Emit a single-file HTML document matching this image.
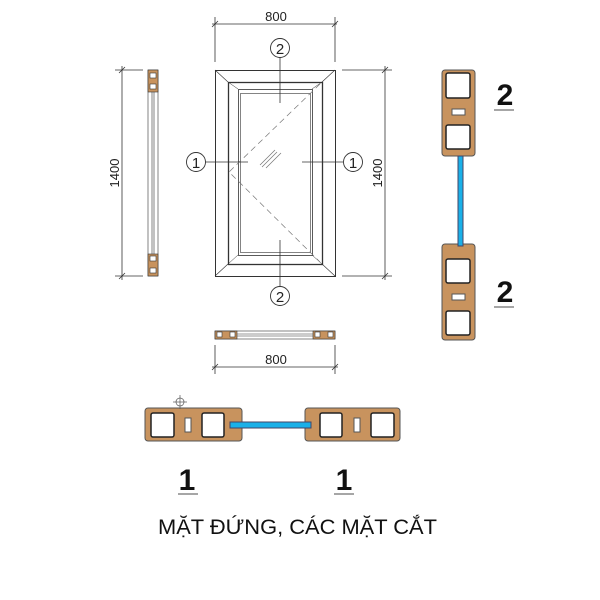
<!DOCTYPE html>
<html><head><meta charset="utf-8"><style>
html,body{margin:0;padding:0;background:#fff}
svg{display:block}
</style></head><body>
<svg width="600" height="600" viewBox="0 0 600 600" xmlns="http://www.w3.org/2000/svg" font-family="Liberation Sans, sans-serif">
<g stroke="#333" stroke-width="0.8" fill="none">
<line x1="212" y1="24" x2="337" y2="24"/>
<line x1="215" y1="17" x2="215" y2="62"/>
<line x1="335" y1="17" x2="335" y2="62"/>
<line x1="212" y1="27" x2="218" y2="21"/><line x1="332" y1="27" x2="338" y2="21"/>
<line x1="122" y1="66" x2="122" y2="280"/>
<line x1="115" y1="70" x2="143" y2="70"/><line x1="115" y1="276" x2="143" y2="276"/>
<line x1="119" y1="73" x2="125" y2="67"/><line x1="119" y1="279" x2="125" y2="273"/>
<line x1="385" y1="66" x2="385" y2="280"/>
<line x1="342" y1="70" x2="392" y2="70"/><line x1="342" y1="276" x2="392" y2="276"/>
<line x1="382" y1="73" x2="388" y2="67"/><line x1="382" y1="279" x2="388" y2="273"/>
<line x1="212" y1="367" x2="338" y2="367"/>
<line x1="215" y1="345" x2="215" y2="374"/><line x1="335" y1="345" x2="335" y2="374"/>
<line x1="212" y1="370" x2="218" y2="364"/><line x1="332" y1="370" x2="338" y2="364"/>
</g>
<g font-size="13" fill="#222" text-anchor="middle">
<text x="276" y="21">800</text>
<text x="276" y="364">800</text>
<text transform="translate(119,173) rotate(-90)">1400</text>
<text transform="translate(382,173) rotate(-90)">1400</text>
</g>
<g stroke="#333" fill="none">
<rect x="215.5" y="70.5" width="120" height="206" stroke-width="1"/>
<rect x="228.5" y="82.5" width="94" height="182" stroke-width="1.3"/>
<rect x="238.5" y="89.5" width="74" height="166" stroke-width="0.8"/>
<rect x="240.5" y="93.5" width="70" height="159" stroke-width="0.6"/>
<line x1="215" y1="70" x2="228" y2="82" stroke-width="0.6"/>
<line x1="335" y1="70" x2="322" y2="82" stroke-width="0.6"/>
<line x1="215" y1="276" x2="228" y2="264" stroke-width="0.6"/>
<line x1="335" y1="276" x2="322" y2="264" stroke-width="0.6"/>
<line x1="228" y1="82" x2="238" y2="89" stroke-width="0.5"/>
<line x1="322" y1="82" x2="312" y2="89" stroke-width="0.5"/>
<line x1="228" y1="264" x2="238" y2="255" stroke-width="0.5"/>
<line x1="322" y1="264" x2="312" y2="255" stroke-width="0.5"/>
<polyline points="320,84 229,172 320,262" stroke="#777" stroke-width="0.7" stroke-dasharray="6,4"/>
<g stroke="#777" stroke-width="0.7"><line x1="260" y1="165" x2="275" y2="150"/><line x1="262" y1="167" x2="277" y2="152"/><line x1="266" y1="168" x2="281" y2="153"/></g>
<line x1="280" y1="57" x2="280" y2="103" stroke-width="0.8"/>
<line x1="280" y1="240" x2="280" y2="287" stroke-width="0.8"/>
<line x1="205" y1="162" x2="248" y2="162" stroke-width="0.8"/>
<line x1="302" y1="162" x2="343" y2="162" stroke-width="0.8"/>
<circle cx="280" cy="48" r="9.5" fill="#fff" stroke-width="0.9"/>
<circle cx="280" cy="296" r="9.5" fill="#fff" stroke-width="0.9"/>
<circle cx="196" cy="162" r="9.5" fill="#fff" stroke-width="0.9"/>
<circle cx="353" cy="162" r="9.5" fill="#fff" stroke-width="0.9"/>
</g>
<g font-size="15" fill="#222" text-anchor="middle">
<text x="280" y="54">2</text><text x="280" y="302">2</text>
<text x="196" y="168">1</text><text x="353" y="168">1</text>
</g>
<g stroke="#333" stroke-width="0.6">
<rect x="148" y="70" width="10" height="206" fill="#fff"/>
<rect x="148" y="70" width="10" height="22" fill="#c8935e"/>
<rect x="148" y="254" width="10" height="22" fill="#c8935e"/>
<rect x="150" y="73" width="6" height="5" fill="#fff"/><rect x="150" y="84" width="6" height="5" fill="#fff"/>
<rect x="150" y="256" width="6" height="5" fill="#fff"/><rect x="150" y="268" width="6" height="5" fill="#fff"/>
<line x1="152" y1="92" x2="152" y2="254"/><line x1="154" y1="92" x2="154" y2="254"/>
</g>
<g stroke="#333" stroke-width="0.6">
<rect x="215" y="331" width="120" height="8" fill="#fff"/>
<rect x="215" y="331" width="22" height="8" fill="#c8935e"/>
<rect x="313" y="331" width="22" height="8" fill="#c8935e"/>
<rect x="217" y="332" width="5" height="5" fill="#fff"/><rect x="230" y="332" width="5" height="5" fill="#fff"/>
<rect x="315" y="332" width="5" height="5" fill="#fff"/><rect x="328" y="332" width="5" height="5" fill="#fff"/>
<line x1="237" y1="334" x2="313" y2="334"/><line x1="237" y1="336" x2="313" y2="336"/>
</g>
<g stroke="#555" stroke-width="1">
<rect x="442" y="70" width="33" height="86" rx="3" fill="#c8935e"/>
<rect x="442" y="244" width="33" height="96" rx="3" fill="#c8935e"/>
<rect x="458" y="156" width="5" height="90" fill="#1ab0e8" stroke="#446"/>
<rect x="446" y="73" width="24" height="25" rx="2" fill="#fff" stroke="#222" stroke-width="1.5"/>
<rect x="446" y="125" width="24" height="24" rx="2" fill="#fff" stroke="#222" stroke-width="1.5"/>
<rect x="446" y="259" width="24" height="24" rx="2" fill="#fff" stroke="#222" stroke-width="1.5"/>
<rect x="446" y="311" width="24" height="24" rx="2" fill="#fff" stroke="#222" stroke-width="1.5"/>
<rect x="452" y="109" width="13" height="6" fill="#fff"/>
<rect x="452" y="294" width="13" height="6" fill="#fff"/>
</g>
<g font-size="30" font-weight="bold" fill="#111" text-anchor="middle">
<text x="505" y="105">2</text><text x="505" y="302">2</text>
<text x="187" y="490">1</text><text x="344" y="490">1</text>
</g>
<g stroke="#888" stroke-width="1.5">
<line x1="494" y1="110" x2="514" y2="110"/><line x1="494" y1="307" x2="514" y2="307"/>
<line x1="178" y1="494" x2="198" y2="494"/><line x1="334" y1="494" x2="354" y2="494"/>
</g>
<g stroke="#555" stroke-width="1">
<rect x="145" y="408" width="97" height="33" rx="3" fill="#c8935e"/>
<rect x="305" y="408" width="95" height="33" rx="3" fill="#c8935e"/>
<rect x="230" y="422" width="81" height="6" fill="#1ab0e8" stroke="#446"/>
<rect x="151" y="413" width="23" height="24" rx="2" fill="#fff" stroke="#222" stroke-width="1.5"/>
<rect x="202" y="413" width="22" height="24" rx="2" fill="#fff" stroke="#222" stroke-width="1.5"/>
<rect x="320" y="413" width="22" height="24" rx="2" fill="#fff" stroke="#222" stroke-width="1.5"/>
<rect x="371" y="413" width="23" height="24" rx="2" fill="#fff" stroke="#222" stroke-width="1.5"/>
<rect x="185" y="418" width="6" height="14" fill="#fff"/>
<rect x="354" y="418" width="6" height="14" fill="#fff"/>
</g>
<g stroke="#555" stroke-width="0.7" fill="none">
<circle cx="180" cy="402" r="4"/><line x1="173" y1="402" x2="187" y2="402"/><line x1="180" y1="395" x2="180" y2="409"/>
</g>
<text x="158" y="534" font-size="21" fill="#111" textLength="279" lengthAdjust="spacingAndGlyphs" font-family="Liberation Sans, DejaVu Sans, sans-serif">MẶT ĐỨNG, CÁC MẶT CẮT</text>
</svg>
</body></html>
